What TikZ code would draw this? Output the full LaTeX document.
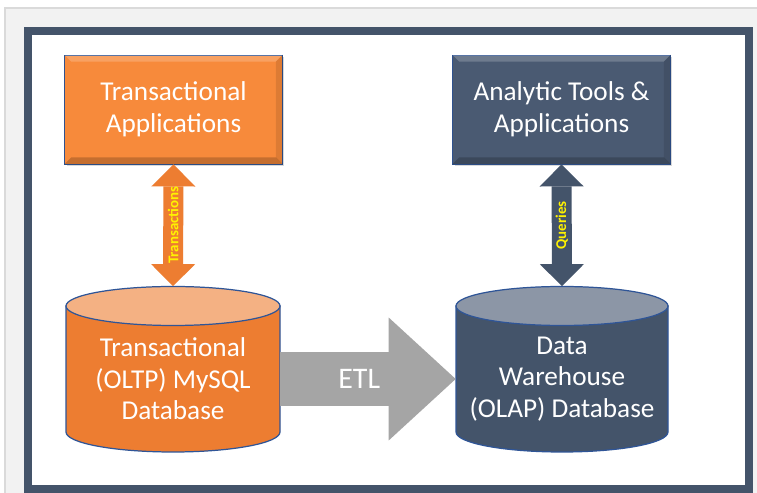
\documentclass[tikz,border=0pt]{standalone}
\usepackage{fontspec}
\setmainfont{Carlito}
\usetikzlibrary{positioning,arrows.meta,calc,shadows}

\definecolor{apporange}{HTML}{F78A3B}
\definecolor{dborange}{HTML}{ED7D31}
\definecolor{lidorange}{HTML}{F4B183}
\definecolor{slate}{HTML}{44546A}
\definecolor{appslate}{HTML}{4A5A72}
\definecolor{lidslate}{HTML}{8C96A6}
\definecolor{cylline}{HTML}{2F5597}
\definecolor{boxline}{HTML}{2F528F}
\definecolor{etlgrey}{HTML}{A5A5A5}
\definecolor{pagegrey}{HTML}{F2F2F2}
\definecolor{edgegrey}{HTML}{DADADA}

\begin{document}
\begin{tikzpicture}[x=0.02cm,y=0.02cm,
  bigtext/.style={text=white,font=\fontsize{15.5}{18}\selectfont,align=center},
  appbox/.style={bigtext,draw=boxline,line width=0.5pt,minimum width=4.36cm,minimum height=2.18cm,
    drop shadow={opacity=0.3,shadow xshift=0.04cm,shadow yshift=-0.04cm}},
  dbnode/.style={bigtext,minimum width=4.28cm,minimum height=2.92cm,inner sep=0pt},
  linkarrow/.style={line width=0.4cm,
    {Triangle[width=0.88cm,length=0.44cm,line width=0pt]}-{Triangle[width=0.88cm,length=0.44cm,line width=0pt]}},
  linklabel/.style={rotate=90,text=yellow,font=\fontsize{8.5}{10}\selectfont\bfseries},
  etlarrow/.style={line width=1.1cm,draw=etlgrey,-{Triangle[width=2.46cm,length=1.34cm,line width=0pt]}}]
\useasboundingbox (0,0) rectangle (757,493);

% Draw the page and the frame
\fill[pagegrey] (5,0) rectangle (757,485);
\draw[edgegrey,line width=1.5pt] (5,0) -- (5,485) -- (757,485);
\draw[slate,fill=white,line width=0.16cm] (28,4) rectangle (749,462);

% Draw the two database cylinders
\foreach \cx/\rx/\body/\lid in {173/107/dborange/lidorange, 562/106/slate/lidslate}{
  \filldraw[fill=\body,draw=cylline,line width=0.7pt] (\cx-\rx,187) -- (\cx-\rx,61)
    arc[start angle=180,end angle=360,x radius=\rx,y radius=20] -- (\cx+\rx,187) -- cycle;
  \filldraw[fill=\lid,draw=cylline,line width=0.7pt] (\cx,187) ellipse[x radius=\rx,y radius=19.5];
}

% Define the nodes
\node[appbox,fill=apporange] (tapp) at (173.5,383.5) {Transactional\\Applications};
\node[appbox,fill=appslate] (atool) at (561.5,383.5) {Analytic Tools \&\\Applications};
\node[dbnode] (oltp) at (173,114) {Transactional\\(OLTP) MySQL\\Database};
\node[dbnode,minimum width=4.24cm] (olap) at (562,114) {Data\\Warehouse\\(OLAP) Database};

% Bevel the two boxes
\foreach \n in {tapp,atool}{
  \fill[white,opacity=0.2] (\n.north west) -- (\n.north east) -- ([shift={(-7,-7)}]\n.north east) -- ([shift={(7,-7)}]\n.north west) -- cycle;
  \fill[black,opacity=0.2] (\n.south west) -- (\n.south east) -- ([shift={(-7,7)}]\n.south east) -- ([shift={(7,7)}]\n.south west) -- cycle;
  \fill[black,opacity=0.1] (\n.north east) -- (\n.south east) -- ([shift={(-7,7)}]\n.south east) -- ([shift={(-7,-7)}]\n.north east) -- cycle;
}

% Draw the connectors
\draw[linkarrow,dborange] (tapp.south) -- ($(oltp.north)+(0,19.5)$) node[midway,linklabel] {Transactions};
\draw[linkarrow,slate] (atool.south) -- ($(olap.north)+(0,19.5)$) node[midway,linklabel] {Queries};
\draw[etlarrow] (oltp.east) -- (olap.west) node[pos=0.45,bigtext,font=\fontsize{17}{20}\selectfont] {ETL};
\end{tikzpicture}
\end{document}
